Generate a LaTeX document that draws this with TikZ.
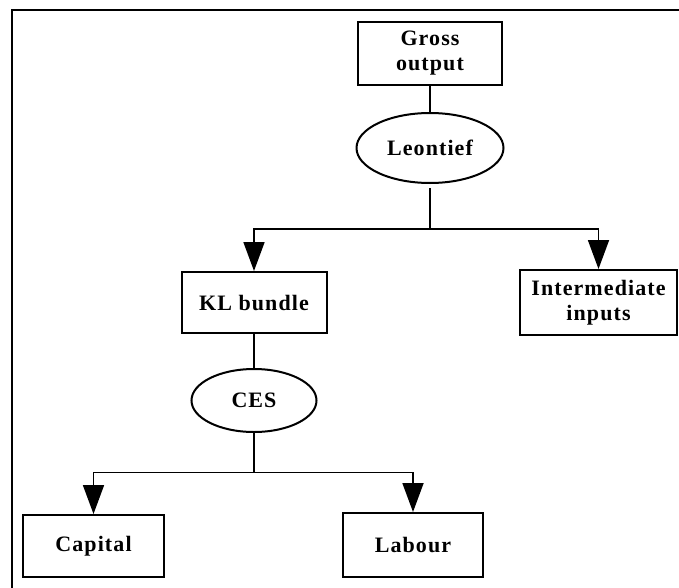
\documentclass[tikz,border=0pt]{standalone}
\usepackage{fontspec}
\setmainfont{Liberation Serif}
\newfontfamily\labfont[LetterSpace=5]{Liberation Serif}
\usetikzlibrary{shapes.geometric,arrows.meta}
\tikzset{
  lab/.style={font=\labfont\bfseries\fontsize{22}{25}\selectfont, align=center, inner sep=0pt},
  boxnode/.style={lab, draw, line width=2pt, rectangle},
  ellnode/.style={lab, draw, line width=2pt, ellipse},
  conn/.style={line width=1.8pt},
  arr/.style={conn, -{Triangle[length=29pt,width=21pt]}},
  frameline/.style={line width=2.2pt}
}
\begin{document}
\begin{tikzpicture}[x=1pt,y=-1pt]
\useasboundingbox (0,0) rectangle (679,588);
\draw[frameline] (12,588) -- (12,10) -- (679,10);

\node[boxnode, minimum width=144pt, minimum height=63pt] (gross) at (430,53.5) {Gross\\output};
\node[ellnode, minimum width=147pt, minimum height=70pt] (leon) at (430,148) {Leontief};
\node[boxnode, minimum width=145pt, minimum height=61pt] (kl) at (254,302.5) {KL bundle};
\node[boxnode, minimum width=157pt, minimum height=65pt] (inter) at (598.5,302.5) {Intermediate\\inputs};
\node[ellnode, minimum width=125pt, minimum height=63pt] (ces) at (254,400.5) {CES};
\node[boxnode, minimum width=141pt, minimum height=62pt] (capital) at (93.5,546) {Capital};
\node[boxnode, minimum width=140pt, minimum height=64pt] (labour) at (413,545) {Labour};

\coordinate (j1) at (430,229);
\coordinate (j2) at (254,472.5);

\draw[conn] (gross.south) -- (leon.north);
\draw[conn, shorten <=4pt] (leon.south) -- (j1);
\draw[arr] (j1) -| (kl.north);
\draw[arr] (j1) -| (inter.north);
\draw[conn] (kl.south) -- (ces.north);
\draw[conn] (ces.south) -- (j2);
\draw[arr] (j2) -| (capital.north);
\draw[arr] (j2) -| (labour.north);
\end{tikzpicture}
\end{document}
